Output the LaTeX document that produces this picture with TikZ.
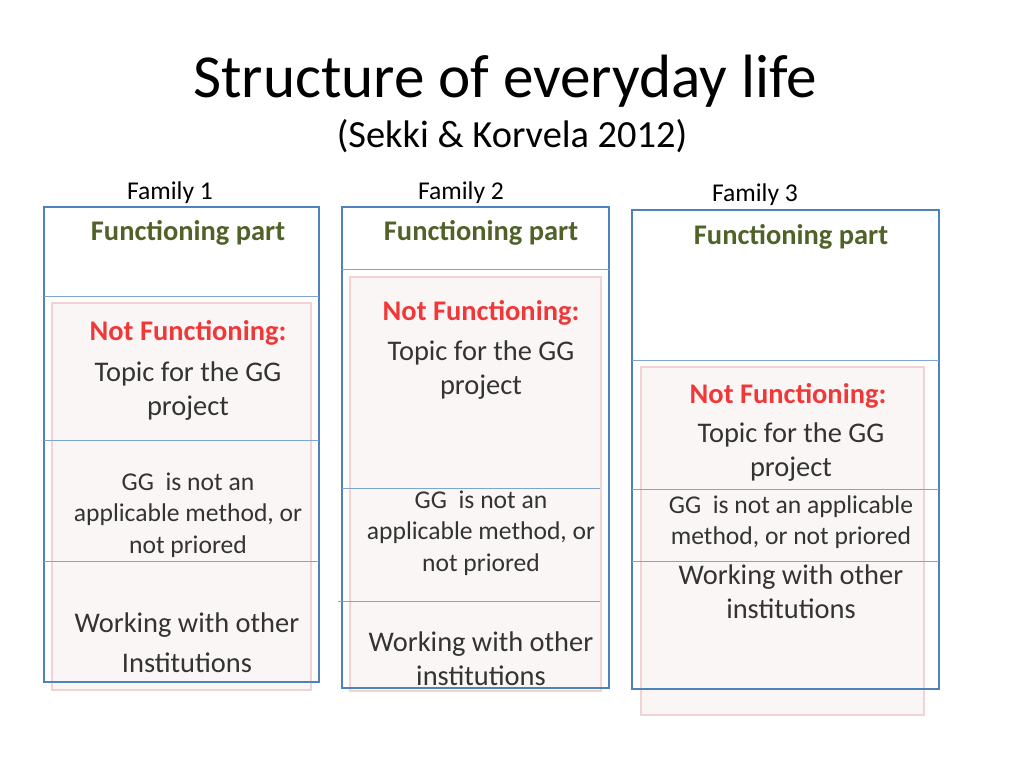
\documentclass[tikz,border=0pt]{standalone}
\usepackage{fontspec}
\setmainfont{Carlito}
\usepackage{xcolor}
\definecolor{famblue}{RGB}{79,129,189}
\definecolor{lineblue}{RGB}{125,165,212}
\definecolor{pinkline}{RGB}{242,210,210}
\definecolor{pinkfill}{RGB}{251,246,246}
\definecolor{olive}{RGB}{79,98,40}
\definecolor{notred}{RGB}{240,56,56}
\definecolor{bodygrey}{RGB}{51,51,51}

\begin{document}
\begin{tikzpicture}[x=0.703125pt, y=-0.703125pt,
    outer/.style={draw=famblue, line width=1.9pt},
    divider/.style={draw=lineblue, line width=0.7pt},
    topicbox/.style={draw=pinkline, fill=pinkfill, line width=1.4pt},
    famlabel/.style={font=\fontsize{18}{21}\selectfont},
    okpart/.style={font=\fontsize{20}{24}\selectfont\bfseries, text=olive},
    notpart/.style={font=\fontsize{20}{24}\selectfont\bfseries, text=notred},
    topic/.style={font=\fontsize{20}{24}\selectfont, text=bodygrey, align=center},
    method/.style={font=\fontsize{18}{22}\selectfont, text=bodygrey, align=center},
    other/.style={font=\fontsize{20}{24}\selectfont, text=bodygrey, align=center}]
        \fill[white] (0,0) rectangle (1024,768);
        \node[font=\fontsize{43}{52}\selectfont] (title) at (505,81) {Structure of everyday life};
        \node[font=\fontsize{27}{32}\selectfont] (sub) at (512,136) {(Sekki \& Korvela 2012)};
        % Family 1
        \fill[topicbox] (52,303) rectangle (311,690);
        \draw[outer] (44,207) rectangle (319,682);
        \draw[divider] (44,296) -- (319,296);
        \draw[divider] (44,440) -- (319,440);
        \draw[divider] (44,561) -- (319,561);
        \node[famlabel] (f1) at (170,193) {Family 1};
        \node[okpart] (ok1) at (188,233) {Functioning part};
        \node[notpart] (not1) at (188,333) {Not Functioning:};
        \node[topic] (t1) at (188,391) {Topic for the GG\\project};
        \node[method] (m1) at (188,515) {GG\ \ is not an\\applicable method, or\\not priored};
        \node[other, font=\fontsize{20}{28}\selectfont] (o1) at (187,643) {Working with other\\Institutions};
        % Family 2
        \fill[topicbox] (350,277) rectangle (601,691);
        \draw[outer] (342,207) rectangle (609,688);
        \draw[divider] (342,269) -- (609,269);
        \draw[divider] (342,488) -- (600,488);
        \draw[divider] (338,601) -- (600,601);
        \node[famlabel] (f2) at (461,193) {Family 2};
        \node[okpart] (ok2) at (481,233) {Functioning part};
        \node[notpart] (not2) at (481,313) {Not Functioning:};
        \node[topic] (t2) at (481,370) {Topic for the GG\\project};
        \node[method] (m2) at (481,533) {GG\ \ is not an\\applicable method, or\\not priored};
        \node[other] (o2) at (481,659) {Working with other\\institutions};
        % Family 3
        \fill[topicbox] (641,367) rectangle (924,715);
        \draw[outer] (632,210) rectangle (939,689);
        \draw[divider] (632,360) -- (939,360);
        \draw[divider] (632,489) -- (939,489);
        \draw[divider] (632,561) -- (939,561);
        \node[famlabel] (f3) at (755,195) {Family 3};
        \node[okpart] (ok3) at (791,237) {Functioning part};
        \node[notpart] (not3) at (788,396) {Not Functioning:};
        \node[topic] (t3) at (791,452) {Topic for the GG\\project};
        \node[method] (m3) at (791,522) {GG\ \ is not an applicable\\method, or not priored};
        \node[other] (o3) at (791,592) {Working with other\\institutions};
\end{tikzpicture}
\end{document}
